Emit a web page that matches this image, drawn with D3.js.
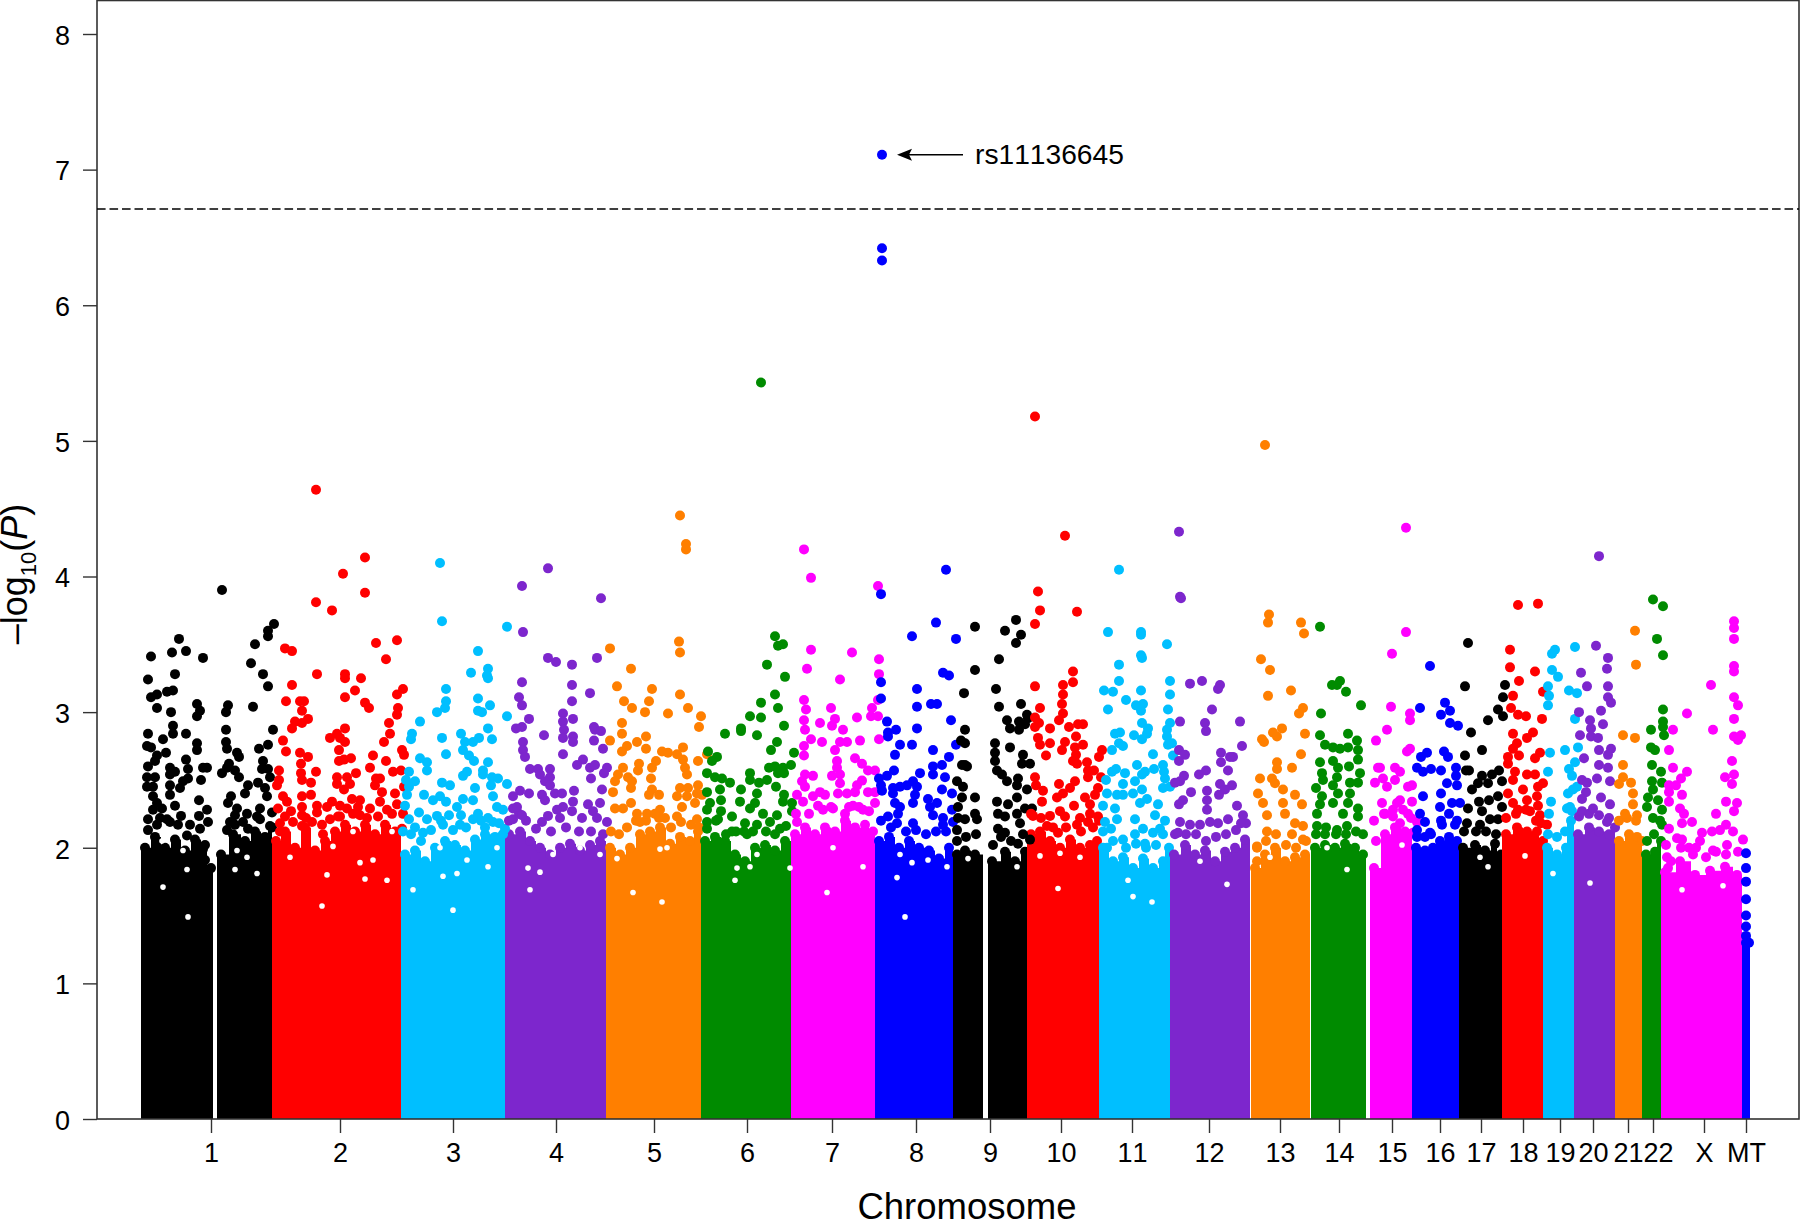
<!DOCTYPE html>
<html><head><meta charset="utf-8">
<script src="https://cdn.jsdelivr.net/npm/d3@7/dist/d3.min.js"></script>
<style>html,body{margin:0;padding:0;background:#fff}svg{display:block}text{font-family:"Liberation Sans",Arial,sans-serif;fill:#000;font-kerning:none}</style>
</head><body><svg id="c" width="1800" height="1221"></svg>
<script>
// positions are genome-axis units along all chromosomes (about 1.92 Mb per unit)
const genomeLength = 1609;
const chromNames = ["1","2","3","4","5","6","7","8","9","10","11","12","13","14","15","16","17","18","19","20","21","22","X","MT"];
const chromTicks = [70,199,312,415,513,606,691,775,849,920,991,1068,1139,1198,1251,1299,1340,1382,1419,1452,1487,1512,1563,1605];
const chromPalette = ["#000000","#FF0000","#00BFFF","#7D26CD","#FF7F00","#008B00","#FF00FF","#0000FF"];
const yTicks = [0,1,2,3,4,5,6,7,8];
const threshold = 6.71;
const leadSnp = {name:"rs11136645",pos:741,value:7.11};

// solid body of each chromosome: [start, level] steps, followed by the end of the block
const mass = [
 [0,[[0,2.0],[10,2.08],[20,2.0],[30,2.06],[40,1.98],[50,2.06],[60,2.02],[66,1.85]],72],
 [0,[[76,1.95],[88,2.1],[100,2.05],[110,2.12],[120,2.08],[127,2.15]],131],
 [1,[[131,2.05],[140,2.12],[150,2.0],[160,2.15],[170,1.98],[180,2.05],[190,2.12],[200,2.17],[210,2.12],[220,2.17],[230,2.1],[240,2.17],[250,2.12]],260],
 [2,[[260,1.95],[270,1.98],[280,1.9],[290,2.0],[300,2.05],[310,2.02],[320,1.98],[330,2.06],[340,2.1],[350,2.08],[358,2.1]],364],
 [3,[[364,2.1],[375,2.12],[385,2.05],[395,2.0],[405,1.95],[415,2.0],[425,2.03],[435,1.98],[445,2.02],[455,2.05]],465],
 [4,[[465,2.0],[475,1.95],[485,2.0],[495,2.1],[505,2.12],[515,2.15],[525,2.03],[535,2.08],[545,2.05],[553,2.12]],560],
 [5,[[560,2.05],[570,2.08],[580,2.05],[590,1.95],[600,1.9],[610,2.0],[620,2.02],[630,1.98],[640,2.05]],650],
 [6,[[650,2.1],[660,2.15],[670,2.1],[680,2.15],[690,2.12],[700,2.2],[710,2.15],[720,2.17],[728,2.12]],734],
 [7,[[734,2.05],[744,2.08],[754,2.0],[764,2.05],[774,2.0],[784,1.98],[794,1.92],[804,2.0]],812],
 [0,[[812,1.95],[820,1.98],[830,1.95]],842],
 [0,[[847,1.9],[860,1.97],[870,1.9],[880,1.97]],886],
 [1,[[886,2.1],[895,2.12],[905,2.05],[915,2.0],[925,2.06],[935,2.0],[945,2.02],[952,2.05]],958],
 [2,[[958,2.0],[968,1.9],[978,1.93],[988,1.85],[998,1.92],[1008,1.85],[1018,1.9],[1024,2.0]],1029],
 [3,[[1029,1.95],[1040,2.02],[1050,1.95],[1060,1.98],[1070,1.9],[1080,1.97],[1090,2.0],[1100,2.06]],1109],
 [4,[[1110,1.85],[1120,1.95],[1130,2.0],[1140,1.9],[1150,1.93],[1160,1.95]],1169],
 [5,[[1170,2.0],[1180,2.02],[1190,2.0],[1200,2.03],[1210,2.0],[1218,1.95]],1225],
 [6,[[1229,1.85],[1240,2.1],[1250,2.15],[1260,2.12],[1265,2.1]],1271],
 [7,[[1271,2.0],[1280,1.98],[1288,2.0],[1295,2.05],[1304,2.08],[1312,2.05]],1318],
 [0,[[1318,2.0],[1330,2.02],[1340,1.98],[1350,2.03],[1356,1.95]],1361],
 [1,[[1361,2.1],[1372,2.15],[1382,2.12],[1392,2.12],[1398,2.05]],1402],
 [2,[[1402,2.0],[1412,1.95],[1421,2.0],[1426,2.2]],1433],
 [3,[[1433,2.1],[1444,2.15],[1454,2.12],[1464,2.1],[1470,2.15]],1474],
 [4,[[1474,2.05],[1484,2.1],[1492,2.08],[1497,2.05]],1501],
 [5,[[1501,1.95],[1510,1.97],[1516,2.05]],1520],
 [6,[[1520,1.82],[1535,1.9],[1550,1.8],[1565,1.83],[1580,1.86],[1592,1.8]],1601],
 [7,[[1601,1.3],[1604,1.3]],1609]
];

// thin white specks inside the dense body: [pos, value]
const holes = [[42,1.98],[22,1.71],[106,1.93],[21,2.05],[46,1.84],[96,1.98],[94,1.84],[47,1.49],[116,1.81],[176,2.06],[212,2.12],[251,2.12],[232,1.91],[219,1.89],[149,1.93],[186,1.8],[224,1.77],[181,1.57],[192,2.01],[246,1.76],[316,1.81],[347,1.86],[272,1.69],[326,1.91],[302,1.79],[312,1.54],[299,2.0],[356,2.0],[387,1.85],[399,1.82],[439,2.0],[389,1.69],[412,1.95],[459,1.95],[519,1.99],[476,1.92],[492,1.67],[521,1.6],[526,2.0],[594,1.76],[609,1.86],[596,1.85],[649,1.85],[616,1.95],[692,2.0],[722,1.86],[686,1.67],[756,1.78],[771,1.89],[787,1.91],[806,1.86],[764,1.49],[759,1.95],[827,1.92],[876,1.86],[917,1.7],[899,1.94],[919,1.96],[939,1.93],[987,1.76],[992,1.64],[1011,1.6],[1086,1.73],[1059,1.9],[1129,1.93],[1186,2.0],[1206,1.84],[1261,2.02],[1347,1.86],[1339,1.93],[1384,1.94],[1412,1.81],[1449,1.74],[1582,1.72],[1541,1.69]];

// points crowded just above the solid body, per chromosome
const fringe = [
 [[7,2.13],[16,2.17],[26,2.21],[37,2.17],[49,2.17],[59,2.14],[46,2.09],[86,2.13],[94,2.17],[107,2.14],[119,2.21],[129,2.16],[102,2.19],[89,2.19],[62,1.99],[64,1.91],[66,1.84]],
 [[139,2.18],[152,2.19],[171,2.19],[181,2.17],[197,2.23],[212,2.25],[226,2.22],[237,2.23],[251,2.25],[261,2.14],[139,2.12],[182,2.1],[161,2.16],[150,2.27],[165,2.22],[186,2.3],[217,2.3]],
 [[270,2.1],[280,2.05],[290,2.13],[300,2.2],[312,2.13],[325,2.15],[340,2.2],[347,2.22],[358,2.18],[344,2.15],[274,2.15],[262,2.12],[362,2.1]],
 [[368,2.2],[378,2.25],[385,2.2],[395,2.14],[410,2.12],[425,2.15],[438,2.12],[450,2.12],[462,2.1],[372,2.29]],
 [[470,2.12],[478,2.1],[486,2.15],[495,2.2],[505,2.2],[518,2.22],[530,2.15],[540,2.19],[550,2.17],[558,2.15]],
 [[566,2.19],[575,2.2],[585,2.1],[595,2.12],[606,2.1],[612,2.12],[625,2.12],[634,2.1],[645,2.16]],
 [[655,2.25],[668,2.25],[682,2.28],[690,2.3],[708,2.3],[718,2.3],[728,2.27]],
 [[740,2.2],[750,2.15],[756,2.18],[765,2.12],[775,2.13],[785,2.1],[795,2.12],[805,2.12]],
 [[816,2.05],[825,2.08],[835,2.1],[852,2.02],[860,2.08],[870,2.05],[882,2.1]],
 [[890,2.25],[900,2.22],[912,2.15],[925,2.15],[940,2.12],[952,2.15],[958,2.2]],
 [[962,2.12],[972,2.05],[985,2.0],[995,2.03],[1005,2.0],[1015,2.02],[1022,2.1],[970,2.14],[1024,2.2]],
 [[1034,2.1],[1045,2.1],[1055,2.1],[1065,2.05],[1075,2.08],[1085,2.1],[1095,2.13],[1105,2.18]],
 [[1116,2.0],[1125,2.05],[1135,2.1],[1145,2.02],[1155,2.0],[1165,2.05]],
 [[1175,2.1],[1185,2.15],[1195,2.1],[1205,2.1],[1215,2.12],[1222,2.1]],
 [[1235,2.05],[1243,2.25],[1252,2.28],[1262,2.28],[1270,2.22],[1233,2.2]],
 [[1276,2.08],[1284,2.08],[1290,2.1],[1300,2.2],[1308,2.25],[1316,2.2]],
 [[1323,2.12],[1335,2.12],[1345,2.12],[1355,2.1]],
 [[1365,2.22],[1375,2.25],[1385,2.28],[1395,2.2],[1400,2.18]],
 [[1407,2.1],[1416,2.08],[1424,2.12],[1429,2.3]],
 [[1438,2.23],[1448,2.25],[1458,2.24],[1468,2.22]],
 [[1478,2.2],[1486,2.22],[1495,2.2]],
 [[1506,2.05],[1513,2.1],[1519,2.2]],
 [[1525,2.02],[1540,2.0],[1548,2.0],[1555,2.0],[1565,1.93],[1575,1.97],[1585,1.95],[1597,1.97],[1530,1.9]],
 []
];

const pts1=[[81,3.9],[133,3.65],[127,3.6],[127,3.56],[114,3.5],[38,3.54],[10,3.41],[31,3.44],[45,3.45],[62,3.4],[110,3.36],[34,3.28],[122,3.28],[7,3.24],[127,3.19],[32,3.16],[26,3.15],[16,3.13],[10,3.11],[56,3.06],[87,3.05],[59,3.01],[16,3.03],[30,3],[85,3],[112,3.04],[56,2.97],[32,2.9],[132,2.87],[85,2.87],[7,2.84],[32,2.84],[45,2.84],[22,2.8],[85,2.78],[56,2.77],[127,2.76],[6,2.75],[10,2.74],[86,2.73],[56,2.72],[118,2.73],[96,2.7],[25,2.7],[16,2.68],[98,2.67],[45,2.65],[14,2.64],[122,2.64],[88,2.62],[7,2.6],[29,2.59],[86,2.59],[47,2.58],[62,2.59],[66,2.59],[121,2.58],[127,2.58],[94,2.57],[81,2.55],[29,2.54],[34,2.56],[98,2.52],[129,2.52],[6,2.52],[14,2.52],[47,2.51],[60,2.5],[42,2.49],[6,2.45],[12,2.45],[29,2.46],[39,2.44],[107,2.46],[117,2.48],[124,2.44],[104,2.4],[12,2.38],[29,2.39],[90,2.38],[126,2.38],[58,2.35],[87,2.33],[34,2.31],[16,2.33],[66,2.28],[12,2.28],[21,2.29],[96,2.29],[119,2.29],[131,2.26],[58,2.235],[94,2.24],[40,2.235],[19,2.22],[7,2.21],[67,2.19],[29,2.19],[106,2.25],[116,2.23]];
const pts2=[[175,4.64],[224,4.14],[202,4.02],[224,3.88],[175,3.81],[191,3.75],[235,3.51],[256,3.53],[144,3.47],[151,3.45],[245,3.39],[176,3.28],[204,3.28],[204,3.25],[220,3.25],[151,3.2],[262,3.17],[256,3.13],[214,3.16],[204,3.11],[145,3.08],[159,3.08],[163,3.08],[224,3.07],[228,3.03],[257,3.03],[161,3.01],[256,2.98],[167,2.95],[154,2.93],[161,2.92],[248,2.92],[151,2.88],[204,2.88],[249,2.84],[196,2.84],[189,2.81],[199,2.81],[142,2.79],[204,2.78],[243,2.78],[145,2.71],[198,2.72],[261,2.72],[263,2.685],[159,2.7],[167,2.67],[232,2.68],[210,2.66],[203,2.65],[198,2.64],[245,2.64],[160,2.62],[229,2.59],[138,2.57],[175,2.56],[160,2.55],[252,2.56],[260,2.57],[215,2.55],[196,2.52],[206,2.52],[161,2.5],[138,2.5],[235,2.51],[239,2.51],[170,2.48],[196,2.47],[209,2.47],[203,2.43],[234,2.46],[241,2.41],[263,2.45],[136,2.46],[161,2.38],[170,2.39],[254,2.4],[142,2.38],[137,2.29],[146,2.34],[191,2.34],[211,2.36],[219,2.35],[239,2.34],[199,2.31],[176,2.31],[161,2.3],[256,2.32],[206,2.29],[229,2.29],[246,2.28],[176,2.26],[144,2.23],[189,2.21],[161,2.24],[199,2.23],[262,2.25],[219,2.24]];
const pts3=[[299,4.1],[301,3.67],[366,3.63],[337,3.45],[347,3.32],[347,3.25],[346,3.27],[330,3.29],[305,3.17],[305,3.08],[337,3.1],[349,3.05],[304,3.03],[296,3],[337,3.01],[341,3],[366,2.97],[279,2.93],[347,2.88],[271,2.84],[270,2.8],[320,2.84],[301,2.81],[351,2.8],[338,2.81],[332,2.78],[324,2.78],[322,2.72],[305,2.69],[328,2.68],[279,2.66],[286,2.63],[333,2.64],[347,2.63],[286,2.57],[326,2.56],[322,2.53],[268,2.56],[342,2.57],[342,2.54],[351,2.52],[357,2.51],[265,2.5],[274,2.49],[301,2.48],[309,2.46],[366,2.47],[350,2.46],[334,2.44],[268,2.45],[266,2.39],[283,2.39],[299,2.38],[292,2.35],[305,2.34],[322,2.36],[332,2.35],[352,2.38],[316,2.3],[264,2.31],[278,2.26],[296,2.235],[308,2.24],[320,2.24],[337,2.25],[356,2.3],[362,2.28],[268,2.21],[286,2.21],[332,2.21],[352,2.19],[364,2.14],[282,2.11],[302,2.17],[319,2.17]];
const pts4=[[407,4.06],[381,3.93],[460,3.84],[382,3.59],[407,3.4],[415,3.37],[456,3.4],[431,3.35],[381,3.22],[431,3.2],[449,3.14],[378,3.11],[431,3.08],[381,3.05],[422,2.99],[388,2.95],[432,2.95],[422,2.93],[381,2.89],[375,2.88],[423,2.87],[453,2.89],[454,2.87],[460,2.86],[403,2.83],[432,2.82],[422,2.81],[432,2.78],[453,2.79],[382,2.78],[382,2.72],[462,2.73],[422,2.69],[384,2.67],[442,2.65],[436,2.61],[389,2.58],[397,2.58],[409,2.58],[466,2.59],[449,2.59],[454,2.61],[399,2.54],[463,2.55],[450,2.51],[409,2.52],[404,2.49],[409,2.46],[461,2.43],[379,2.42],[372,2.38],[388,2.4],[401,2.39],[414,2.4],[421,2.4],[433,2.42],[459,2.33],[404,2.35],[432,2.34],[376,2.3],[447,2.32],[422,2.3],[416,2.28],[452,2.27],[431,2.27],[407,2.235],[441,2.22],[381,2.24],[466,2.19],[401,2.19],[419,2.22],[456,2.22],[372,2.21]];
const pts5=[[539,4.45],[545,4.24],[545,4.2],[538,3.52],[539,3.44],[469,3.47],[490,3.32],[476,3.19],[511,3.17],[483,3.08],[508,3.08],[539,3.13],[491,3.03],[504,3],[547,3.03],[527,2.99],[560,2.97],[481,2.92],[558,2.89],[481,2.84],[505,2.82],[469,2.79],[496,2.78],[505,2.73],[486,2.75],[481,2.71],[542,2.74],[521,2.71],[527,2.7],[536,2.69],[566,2.69],[557,2.64],[515,2.64],[542,2.65],[498,2.62],[511,2.59],[482,2.59],[497,2.57],[544,2.59],[546,2.54],[477,2.54],[487,2.52],[510,2.51],[491,2.49],[474,2.49],[557,2.46],[490,2.44],[539,2.44],[547,2.44],[511,2.43],[472,2.41],[536,2.38],[508,2.39],[518,2.39],[546,2.38],[556,2.4],[561,2.39],[490,2.33],[541,2.3],[554,2.33],[474,2.29],[482,2.29],[519,2.28],[496,2.25],[506,2.25],[514,2.25],[536,2.23],[556,2.21],[524,2.22],[499,2.19]];
const pts6=[[620,5.43],[634,3.56],[642,3.5],[637,3.49],[626,3.35],[644,3.26],[634,3.13],[620,3.07],[637,3.03],[609,2.97],[620,2.96],[643,2.9],[584,2.84],[600,2.88],[600,2.86],[616,2.83],[636,2.78],[630,2.72],[653,2.7],[567,2.71],[576,2.67],[571,2.64],[650,2.61],[628,2.59],[634,2.6],[642,2.59],[637,2.55],[643,2.55],[566,2.55],[574,2.52],[581,2.51],[589,2.48],[609,2.55],[609,2.5],[618,2.48],[626,2.5],[635,2.45],[579,2.43],[600,2.43],[566,2.41],[616,2.4],[643,2.39],[580,2.35],[599,2.34],[614,2.33],[642,2.34],[569,2.33],[580,2.27],[566,2.28],[609,2.29],[651,2.33],[591,2.23],[622,2.25],[636,2.24],[651,2.27],[577,2.21],[616,2.17],[604,2.18],[629,2.19],[603,2.12],[591,2.12],[566,2.14],[639,2.14]];
const pts7=[[663,4.2],[670,3.99],[737,3.93],[670,3.46],[711,3.44],[738,3.39],[666,3.32],[738,3.28],[699,3.24],[663,3.09],[737,3.09],[665,3.02],[690,3.03],[731,3.03],[716,2.96],[694,2.95],[663,2.94],[730,2.97],[737,2.97],[679,2.92],[691,2.9],[664,2.87],[702,2.87],[738,2.8],[719,2.79],[681,2.78],[670,2.8],[699,2.78],[706,2.78],[663,2.75],[694,2.72],[663,2.68],[714,2.66],[721,2.62],[696,2.64],[696,2.59],[699,2.54],[727,2.57],[734,2.57],[672,2.53],[664,2.54],[691,2.53],[721,2.495],[716,2.46],[661,2.49],[699,2.475],[664,2.45],[679,2.41],[656,2.39],[672,2.38],[684,2.39],[697,2.4],[706,2.4],[714,2.41],[727,2.41],[734,2.41],[662,2.34],[677,2.31],[712,2.31],[734,2.33],[692,2.29],[722,2.28],[656,2.19],[704,2.25]];
const pts8=[[741,7.11],[741,6.42],[741,6.33],[805,4.05],[740,3.87],[795,3.66],[771,3.56],[815,3.54],[802,3.29],[808,3.27],[740,3.22],[776,3.17],[740,3.1],[776,3.04],[790,3.06],[796,3.06],[810,2.94],[746,2.93],[776,2.88],[755,2.87],[747,2.85],[747,2.82],[759,2.76],[771,2.76],[815,2.76],[792,2.72],[754,2.685],[808,2.67],[801,2.61],[792,2.6],[792,2.54],[753,2.57],[779,2.55],[804,2.52],[746,2.53],[738,2.51],[740,2.46],[741,2.42],[772,2.49],[759,2.45],[752,2.44],[766,2.46],[776,2.45],[774,2.39],[752,2.4],[801,2.43],[811,2.4],[787,2.36],[772,2.33],[754,2.33],[796,2.33],[759,2.3],[789,2.3],[811,2.28],[792,2.24],[802,2.22],[747,2.23],[757,2.25],[812,2.19],[772,2.18],[802,2.17]];
const pts9=[[834,3.63],[834,3.31],[823,3.14],[824,2.87],[820,2.79],[824,2.77],[824,2.61],[821,2.61],[826,2.6],[816,2.49],[822,2.45],[834,2.37],[817,2.3],[821,2.37],[834,2.25],[824,2.21],[817,2.22],[836,2.21],[816,2.13],[875,3.68],[864,3.6],[880,3.57],[875,3.51],[858,3.39],[855,3.17],[858,3.04],[880,3.06],[886,2.98],[887,2.955],[866,2.94],[878,2.93],[869,2.88],[878,2.87],[884,2.91],[854,2.77],[869,2.74],[854,2.7],[882,2.685],[854,2.64],[881,2.62],[889,2.62],[856,2.57],[861,2.54],[866,2.49],[877,2.51],[876,2.46],[886,2.43],[876,2.37],[856,2.34],[867,2.32],[857,2.25],[876,2.25],[884,2.29],[864,2.23],[891,2.29],[879,2.18],[857,2.14],[864,2.11],[889,2.06],[877,2.03]];
const pts10=[[894,5.18],[924,4.3],[897,3.89],[899,3.75],[894,3.65],[936,3.74],[932,3.3],[894,3.19],[922,3.2],[932,3.22],[922,3.13],[921,3.06],[899,3.03],[922,2.99],[918,2.94],[894,2.96],[898,2.92],[894,2.89],[909,2.88],[928,2.89],[937,2.91],[942,2.91],[935,2.82],[897,2.81],[899,2.76],[909,2.77],[924,2.78],[921,2.72],[942,2.76],[934,2.74],[961,2.72],[958,2.67],[905,2.68],[935,2.685],[932,2.64],[936,2.62],[946,2.63],[953,2.57],[947,2.57],[947,2.52],[960,2.52],[894,2.52],[934,2.49],[918,2.47],[895,2.46],[929,2.44],[957,2.44],[902,2.42],[922,2.4],[916,2.37],[944,2.37],[954,2.39],[901,2.34],[933,2.31],[949,2.32],[919,2.27],[892,2.235],[949,2.25],[909,2.235],[924,2.23],[939,2.22],[947,2.19],[957,2.23],[906,2.16],[917,2.11],[936,2.17]];
const pts11=[[978,4.05],[967,3.59],[1000,3.59],[1000,3.57],[1026,3.5],[1000,3.42],[1001,3.4],[978,3.35],[978,3.23],[1029,3.23],[963,3.16],[972,3.15],[1000,3.16],[1029,3.13],[985,3.09],[1002,3.06],[995,3.05],[1000,3.01],[967,3.02],[1027,3.02],[1029,2.92],[1001,2.92],[1007,2.88],[979,2.85],[974,2.84],[1006,2.84],[993,2.83],[1001,2.8],[1026,2.87],[1026,2.82],[1031,2.77],[1027,2.76],[978,2.77],[982,2.75],[971,2.72],[1012,2.69],[1032,2.68],[996,2.61],[1013,2.58],[1022,2.61],[975,2.58],[971,2.56],[984,2.55],[1004,2.56],[1001,2.54],[1023,2.56],[965,2.5],[994,2.49],[1024,2.51],[982,2.47],[1029,2.45],[1022,2.44],[1001,2.43],[976,2.39],[982,2.39],[992,2.4],[966,2.4],[1006,2.36],[1017,2.32],[962,2.31],[974,2.29],[999,2.33],[1014,2.24],[994,2.21],[976,2.21],[1002,2.14],[964,2.19],[1012,2.11],[994,2.1],[982,2.06],[966,2],[1004,2.03],[1019,2.14]];
const pts12=[[1038,4.33],[1039,3.85],[1040,3.84],[1049,3.21],[1061,3.23],[1079,3.2],[1077,3.17],[1071,3.02],[1039,2.93],[1064,2.92],[1065,2.86],[1099,2.93],[1101,2.75],[1038,2.72],[1044,2.685],[1038,2.64],[1080,2.7],[1092,2.67],[1089,2.67],[1080,2.63],[1087,2.57],[1065,2.57],[1058,2.54],[1043,2.53],[1039,2.49],[1034,2.48],[1079,2.47],[1091,2.46],[1084,2.43],[1050,2.41],[1066,2.42],[1078,2.39],[1042,2.35],[1066,2.35],[1038,2.32],[1096,2.31],[1066,2.28],[1102,2.24],[1039,2.19],[1049,2.17],[1059,2.17],[1069,2.19],[1077,2.18],[1087,2.21],[1100,2.18],[1037,2.11]];
const pts13=[[1124,4.97],[1128,3.72],[1127,3.66],[1160,3.66],[1163,3.58],[1120,3.39],[1129,3.31],[1127,3.12],[1150,3.16],[1162,3.03],[1158,2.99],[1141,2.88],[1132,2.85],[1136,2.82],[1164,2.84],[1121,2.8],[1123,2.78],[1160,2.69],[1136,2.63],[1136,2.58],[1151,2.59],[1119,2.51],[1131,2.51],[1134,2.475],[1142,2.43],[1117,2.4],[1154,2.39],[1122,2.33],[1142,2.33],[1161,2.32],[1126,2.24],[1144,2.25],[1162,2.16],[1154,2.18],[1151,2.1],[1126,2.12],[1116,1.9],[1116,2.01],[1162,2.06]];
const pts14=[[1179,3.63],[1199,3.23],[1191,3.2],[1196,3.2],[1205,3.15],[1220,3.05],[1180,2.99],[1179,2.83],[1207,2.84],[1216,2.79],[1184,2.76],[1192,2.74],[1199,2.73],[1207,2.74],[1217,2.72],[1217,2.65],[1192,2.64],[1179,2.63],[1208,2.6],[1197,2.59],[1181,2.55],[1219,2.55],[1196,2.52],[1182,2.5],[1209,2.48],[1192,2.46],[1175,2.44],[1217,2.48],[1197,2.4],[1181,2.38],[1209,2.4],[1192,2.33],[1179,2.32],[1217,2.29],[1207,2.33],[1176,2.25],[1202,2.25],[1217,2.23],[1176,2.16],[1196,2.13],[1206,2.16],[1184,2.1]];
const pts15=[[1265,4.36],[1265,3.59],[1251,3.43],[1250,3.04],[1269,2.99],[1269,2.94],[1246,2.87],[1266,2.71],[1269,2.73],[1239,2.59],[1254,2.59],[1259,2.56],[1242,2.51],[1254,2.5],[1271,2.46],[1267,2.45],[1246,2.45],[1241,2.33],[1256,2.33],[1259,2.35],[1271,2.34],[1244,2.25],[1252,2.23],[1267,2.25],[1276,2.19],[1259,2.18],[1272,2.11],[1235,2.79],[1237,2.59],[1234,2.48]];
const pts16=[[1289,3.34],[1279,3.03],[1304,3.07],[1309,3.01],[1300,2.98],[1309,2.92],[1317,2.9],[1286,2.7],[1280,2.67],[1303,2.71],[1307,2.67],[1276,2.59],[1282,2.56],[1290,2.58],[1300,2.57],[1315,2.59],[1315,2.53],[1282,2.38],[1306,2.475],[1316,2.46],[1300,2.4],[1279,2.25],[1284,2.19],[1276,2.13],[1289,2.11],[1299,2.3],[1311,2.33],[1319,2.33],[1301,2.17],[1314,2.17]];
const pts17=[[1327,3.51],[1324,3.19],[1364,3.2],[1362,3.11],[1357,3.02],[1362,2.97],[1347,2.94],[1330,2.85],[1341,2.72],[1324,2.68],[1325,2.57],[1328,2.57],[1358,2.57],[1351,2.54],[1341,2.53],[1347,2.475],[1337,2.475],[1361,2.49],[1331,2.43],[1357,2.38],[1348,2.35],[1338,2.34],[1361,2.3],[1327,2.29],[1341,2.27],[1357,2.21],[1349,2.21],[1326,2.18],[1339,2.17]];
const pts18=[[1377,3.79],[1397,3.8],[1369,3.46],[1369,3.33],[1394,3.3],[1378,3.23],[1402,3.15],[1372,3.12],[1370,3.03],[1377,2.98],[1385,2.97],[1401,2.95],[1392,2.85],[1386,2.81],[1372,2.84],[1376,2.77],[1372,2.73],[1399,2.7],[1394,2.66],[1367,2.67],[1378,2.68],[1367,2.62],[1374,2.56],[1372,2.5],[1386,2.54],[1394,2.54],[1402,2.475],[1397,2.45],[1382,2.43],[1367,2.4],[1396,2.38],[1372,2.33],[1386,2.35],[1397,2.31],[1377,2.28],[1389,2.27],[1399,2.24],[1406,2.17]];
const pts19=[[1414,3.46],[1411,3.43],[1434,3.48],[1411,3.31],[1417,3.26],[1407,3.19],[1408,3.12],[1428,3.16],[1436,3.14],[1407,3.05],[1434,2.95],[1437,2.74],[1409,2.7],[1424,2.72],[1434,2.63],[1407,2.56],[1428,2.58],[1431,2.53],[1436,2.45],[1432,2.43],[1427,2.4],[1410,2.34],[1408,2.25],[1426,2.29],[1431,2.27]];
const pts20=[[1458,4.15],[1455,3.49],[1467,3.4],[1466,3.32],[1440,3.29],[1467,3.19],[1446,3.19],[1467,3.11],[1470,3.07],[1438,3],[1460,3.01],[1449,2.94],[1462,2.91],[1450,2.88],[1439,2.83],[1450,2.82],[1457,2.81],[1470,2.73],[1458,2.72],[1467,2.685],[1443,2.66],[1458,2.61],[1467,2.59],[1456,2.51],[1441,2.5],[1446,2.48],[1469,2.49],[1445,2.41],[1460,2.37],[1441,2.36],[1469,2.32],[1452,2.29],[1441,2.27],[1466,2.19]];
const pts21=[[1494,3.6],[1495,3.35],[1482,2.83],[1494,2.81],[1482,2.61],[1482,2.52],[1478,2.47],[1490,2.48],[1492,2.4],[1492,2.32],[1484,2.25],[1496,2.24]];
const pts22=[[1512,3.83],[1522,3.78],[1516,3.54],[1522,3.42],[1522,3.02],[1522,2.93],[1522,2.89],[1523,2.83],[1510,2.87],[1510,2.74],[1514,2.72],[1511,2.61],[1520,2.56],[1511,2.49],[1521,2.48],[1512,2.43],[1507,2.37],[1517,2.35],[1506,2.3],[1521,2.28],[1512,2.22],[1521,2.17]];
const ptsX=[[1593,3.67],[1593,3.62],[1593,3.54],[1593,3.34],[1593,3.3],[1570,3.2],[1593,3.11],[1597,3.05],[1546,2.99],[1593,2.95],[1572,2.87],[1532,2.87],[1593,2.82],[1600,2.83],[1597,2.795],[1528,2.72],[1591,2.64],[1532,2.59],[1546,2.56],[1540,2.51],[1584,2.52],[1593,2.54],[1591,2.47],[1528,2.46],[1528,2.41],[1535,2.46],[1541,2.39],[1528,2.34],[1585,2.34],[1596,2.33],[1539,2.29],[1593,2.27],[1575,2.25],[1543,2.25],[1551,2.19],[1541,2.18],[1528,2.14],[1585,2.17],[1561,2.11],[1571,2.12],[1579,2.13],[1592,2.12],[1602,2.06],[1536,2.07],[1541,2.06],[1559,2.05],[1572,1.98],[1552,1.95],[1586,2.02],[1526,1.93],[1527,1.85]];
const ptsMT=[[1605,1.96],[1605,1.85],[1605,1.75],[1605,1.62],[1605,1.5],[1605,1.42],[1605,1.35]];
const chromPoints=[pts1,pts2,pts3,pts4,pts5,pts6,pts7,pts8,pts9,pts10,pts11,pts12,pts13,pts14,pts15,pts16,pts17,pts18,pts19,pts20,pts21,pts22,ptsX,ptsMT];

const svg=d3.select("#c");
const x=d3.scaleLinear().domain([0,genomeLength]).range([141,1750]);
const y=d3.scaleLinear().domain([0,8]).range([1119,34]);
const R=5, ink="#333";

// solid blocks
const area=d3.area().x(d=>x(d[0])).y0(y(0)).y1(d=>y(d[1])).curve(d3.curveStepAfter);
const gm=svg.append("g");
mass.forEach(([c,levels,end])=>{
  const col=chromPalette[c];
  gm.append("path").attr("d",area([...levels,[end,levels[levels.length-1][1]]])).attr("fill",col);
  gm.selectAll(null).data(levels).join("circle")
    .attr("cx",d=>x(d[0])+4).attr("cy",d=>y(d[1])).attr("r",R).attr("fill",col);
});
svg.append("g").selectAll("circle").data(holes).join("circle")
  .attr("cx",d=>x(d[0])).attr("cy",d=>y(d[1])).attr("r",2.8).attr("fill","#fff");
// individual SNPs
chromPoints.forEach((pts,i)=>{
  svg.append("g").selectAll("circle").data([...fringe[i],...pts]).join("circle")
    .attr("cx",d=>x(d[0])).attr("cy",d=>y(d[1])).attr("r",R)
    .attr("fill",chromPalette[i%8]);
});

// frame
svg.append("rect").attr("x",97).attr("y",0.5).attr("width",1702).attr("height",1118.5)
  .attr("fill","none").attr("stroke",ink).attr("stroke-width",1.6);

// threshold
svg.append("line").attr("x1",97).attr("x2",1799).attr("y1",y(threshold)).attr("y2",y(threshold))
  .attr("stroke","#000").attr("stroke-width",1.6).attr("stroke-dasharray","8.6 3.9");

// axes
const gy=svg.append("g").attr("transform","translate(97,0)")
  .call(d3.axisLeft(y).tickValues(yTicks).tickFormat(d3.format("d")).tickSize(14).tickPadding(13));
gy.select(".domain").remove();
const gx=svg.append("g").attr("transform","translate(0,1119)")
  .call(d3.axisBottom(x).tickValues(chromTicks).tickFormat((d,i)=>chromNames[i]).tickSize(14).tickPadding(10));
gx.select(".domain").remove();
[gx,gy].forEach(g=>{
  g.selectAll("line").attr("stroke",ink).attr("stroke-width",1.4);
  g.selectAll("text").attr("font-size",27).attr("font-family",'"Liberation Sans",Arial,sans-serif').attr("fill","#000");
});
gx.selectAll("text").filter(d=>d===1512).attr("dx",5);
gy.selectAll("text").attr("dy","0.38em");

// titles
svg.append("text").attr("x",967).attr("y",1219).attr("text-anchor","middle").attr("font-size",36.5).text("Chromosome");
const yt=svg.append("text").attr("transform","translate(27,574) rotate(-90)").attr("text-anchor","middle").attr("font-size",36);
yt.append("tspan").text("\u2013log");
yt.append("tspan").attr("font-size",22).attr("dy",9).text("10");
yt.append("tspan").attr("dy",-9).text("(");
yt.append("tspan").attr("font-style","italic").text("P");
yt.append("tspan").text(")");

// annotation
const ay=y(leadSnp.value), ax=x(leadSnp.pos);
svg.append("line").attr("x1",ax+25).attr("x2",ax+81).attr("y1",ay).attr("y2",ay).attr("stroke","#000").attr("stroke-width",1.6);
svg.append("path").attr("d",d3.line()([[ax+15,ay],[ax+30,ay-6],[ax+27,ay],[ax+30,ay+6]])+"Z").attr("fill","#000");
svg.append("text").attr("x",ax+93).attr("y",ay+9).attr("font-size",28.2).text(leadSnp.name);
</script></body></html>
